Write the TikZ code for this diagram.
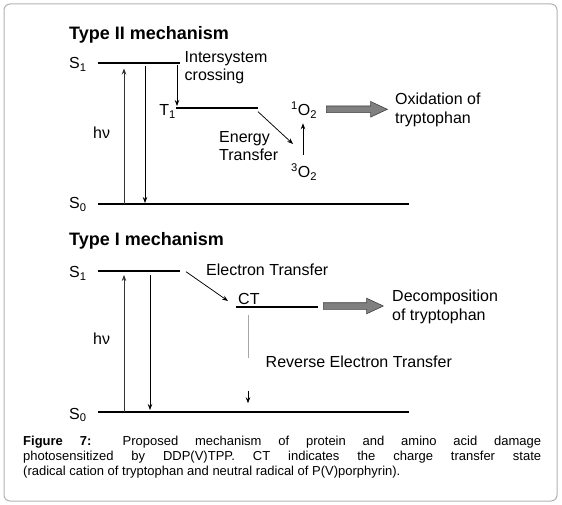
\documentclass[tikz,border=0pt]{standalone}
\usepackage{fontspec}
\setmainfont{Liberation Sans}
\usetikzlibrary{arrows.meta,shapes.arrows,positioning}

\tikzset{
  level/.style={line width=2pt},
  trans/.style={-{Stealth[length=6pt,width=4.5pt]}, line width=0.75pt},
  lbl/.style={inner sep=0pt, font=\fontsize{16}{18.5}\selectfont, align=left},
  ttl/.style={inner sep=0pt, font=\fontsize{18}{20}\selectfont\bfseries},
  fatarrow/.style={single arrow, draw=black!75, fill=black!50, line width=0.6pt,
    inner sep=3pt, single arrow head extend=4.5pt, single arrow tip angle=50,
    anchor=west},
}

\begin{document}
\begin{tikzpicture}[x=1pt, y=-1pt]
  \useasboundingbox (0,0) rectangle (562,505);

  % ---- frame ----
  \draw[black!30, line width=1pt, rounded corners=6pt] (4,4) rectangle (557,501);

  % ---- Type II: levels ----
  \node[ttl, anchor=base west] (ttwo) at (69,40) {Type II mechanism};
  \draw[level] (98,63.3) coordinate (ssa) -- (180,63.3) coordinate (ssb);
  \draw[level] (176,108.3) coordinate (tta) -- (258,108.3) coordinate (ttb);
  \draw[level] (98,204) coordinate (sza) -- (409,204) coordinate (szb);
  \node[lbl, anchor=base west] (sone) at (69,69) {S\textsubscript{1}};
  \node[lbl, anchor=base east] (tone) at (176,116) {T\textsubscript{1}};
  \node[lbl, anchor=base west] (szero) at (69,209) {S\textsubscript{0}};
  \node[lbl, anchor=base west] (hnu) at (93,138.5) {hν};

  % ---- Type II: transitions ----
  \coordinate (absa) at (124,204);   \coordinate (absb) at (124,68.5);
  \coordinate (emia) at (145,66.5);  \coordinate (emib) at (145,203);
  \coordinate (isca) at (177,65);    \coordinate (iscb) at (177,106);
  \coordinate (enta) at (258,111.7); \coordinate (entb) at (293,144);
  \draw[trans, black!80] (absa) -- (absb);
  \draw[trans] (emia) -- (emib);
  \draw[trans] (isca) -- (iscb);
  \draw[trans] (enta) -- (entb);
  \node[lbl, anchor=north west] (isc) at (184.5,51.2) {Intersystem\\crossing};
  \node[lbl, anchor=north west] (ent) at (219,131.2) {Energy\\Transfer};

  % ---- oxygen ----
  \node[lbl, anchor=base west] (osing) at (291,116) {\textsuperscript{1}O\textsubscript{2}};
  \node[lbl, anchor=base west] (otrip) at (291,177.5) {\textsuperscript{3}O\textsubscript{2}};
  \coordinate (oxa) at (303,155); \coordinate (oxb) at (303,123.3);
  \draw[trans] (oxa) -- (oxb);
  \node[fatarrow, minimum height=61pt] (oxarr) at (326,109.3) {};
  \node[lbl, anchor=north west, font=\fontsize{16}{19}\selectfont] (oxid) at (395,93.2) {Oxidation of\\tryptophan};

  % ---- Type I: levels ----
  \node[ttl, anchor=base west] (tone) at (69,245.3) {Type I mechanism};
  \draw[level] (98,271) coordinate (usa) -- (180,271) coordinate (usb);
  \draw[level] (236,307.3) coordinate (cta) -- (318,307.3) coordinate (ctb);
  \draw[level] (98,411.7) coordinate (uza) -- (409,411.7) coordinate (uzb);
  \node[lbl, anchor=base west] (usone) at (69,277.5) {S\textsubscript{1}};
  \node[lbl, anchor=base west] (uszero) at (69,419) {S\textsubscript{0}};
  \node[lbl, anchor=base west] (uhnu) at (93,344.5) {hν};
  \node[lbl, anchor=base west] (ctl) at (238,304) {CT};

  % ---- Type I: transitions ----
  \coordinate (uabsa) at (124,411.7); \coordinate (uabsb) at (124,275);
  \coordinate (uemia) at (150,275);   \coordinate (uemib) at (150,410);
  \coordinate (etra) at (186,271.7);  \coordinate (etrb) at (228,301);
  \coordinate (reva) at (248,315);    \coordinate (revb) at (248,358.3);
  \coordinate (revc) at (248,391);    \coordinate (revd) at (248,403.3);
  \draw[trans, black!80] (uabsa) -- (uabsb);
  \draw[trans] (uemia) -- (uemib);
  \draw[trans] (etra) -- (etrb);
  \draw[black!35, line width=1pt] (reva) -- (revb);
  \draw[trans] (revc) -- (revd);
  \node[lbl, anchor=base west] (etr) at (206,275.7) {Electron Transfer};
  \node[lbl, anchor=base west] (rev) at (265.5,367.4) {Reverse Electron Transfer};
  \node[fatarrow, minimum height=60pt] (decarr) at (323,306) {};
  \node[lbl, anchor=north west, font=\fontsize{16}{19}\selectfont] (deco) at (392,290) {Decomposition\\of tryptophan};

  % ---- caption ----
  \node[inner sep=0pt, anchor=north west, text width=518pt, align=justify,
        font=\fontsize{13}{15}\selectfont] (capt) at (23,436.1)
    {\textbf{Figure 7:} Proposed mechanism of protein and amino acid damage\linebreak
     photosensitized by DDP(V)TPP. CT indicates the charge transfer state\linebreak
     (radical cation of tryptophan and neutral radical of P(V)porphyrin).};
\end{tikzpicture}
\end{document}
